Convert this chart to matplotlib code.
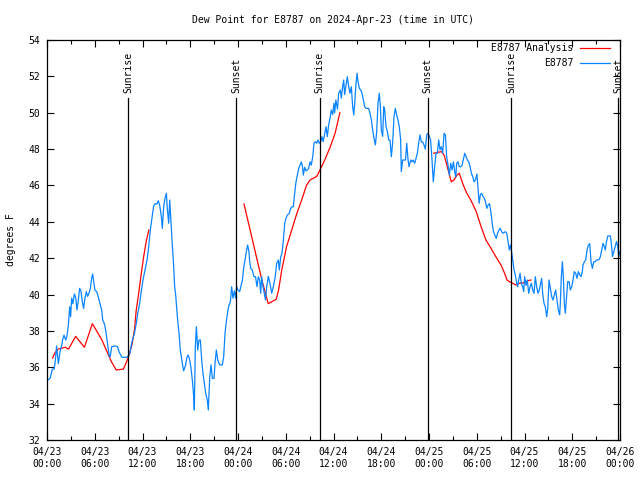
import numpy as np
import matplotlib
matplotlib.use("Agg")
import matplotlib.pyplot as plt

plt.rcParams['font.family'] = ['DejaVu Sans Mono']
plt.rcParams['font.size'] = 7

########## Observed dew point (hours since 04/23 00:00 UTC, deg F) ##########
obs_hours = [
    0.1, 0.4, 0.67, 0.9, 1.0, 1.13, 1.2, 1.43, 1.63, 1.84, 1.97, 2.14, 2.35, 2.5, 2.68, 2.85, 2.97,
    3.1, 3.25, 3.43, 3.6, 3.77, 3.94, 4.1, 4.26, 4.44, 4.6, 4.77, 4.94, 5.1, 5.27, 5.45, 5.61, 5.74,
    5.87, 6.03, 6.24, 6.45, 6.66, 6.87, 7.0, 7.2, 7.37, 7.54, 7.71, 7.83, 7.95, 8.13, 8.55, 8.87,
    9.05, 9.4, 10.05, 10.39, 10.68, 10.97, 11.22, 11.4, 11.65, 11.81, 12.06, 12.36, 12.57, 12.78,
    12.98, 13.19, 13.4, 13.6, 13.8, 13.99, 14.16, 14.37, 14.49, 14.66, 14.83, 15.0, 15.12, 15.29,
    15.42, 15.55, 15.71, 15.92, 16.04, 16.17, 16.38, 16.59, 16.75, 16.97, 17.17, 17.4, 17.6, 17.75,
    17.93, 18.1, 18.26, 18.43, 18.51, 18.64, 18.77, 18.94, 19.1, 19.27, 19.44, 19.6, 19.77, 19.94,
    20.14, 20.27, 20.45, 20.61, 20.78, 20.99, 21.11, 21.28, 21.45, 21.7, 22.03, 22.2, 22.37, 22.53,
    22.74, 22.87, 23.04, 23.2, 23.37, 23.54, 23.7, 23.83, 24.0, 24.21, 24.38, 24.55, 24.71, 24.88,
    25.05, 25.21, 25.38, 25.47, 25.6, 25.8, 26.0, 26.2, 26.39, 26.55, 26.72, 26.85, 26.98, 27.14,
    27.3, 27.45, 27.6, 27.81, 28.02, 28.24, 28.44, 28.65, 28.86, 29.07, 29.19, 29.37, 29.53, 29.7,
    29.87, 30.03, 30.2, 30.45, 30.62, 30.79, 30.95, 31.12, 31.29, 31.46, 31.63, 31.79, 31.96, 32.1,
    32.21, 32.38, 32.55, 32.71, 32.88, 33.05, 33.21, 33.39, 33.55, 33.72, 33.89, 34.05, 34.22,
    34.39, 34.56, 34.7, 34.9, 35.06, 35.22, 35.39, 35.56, 35.73, 35.9, 36.06, 36.15, 36.3, 36.5,
    36.65, 36.86, 36.98, 37.15, 37.28, 37.4, 37.57, 37.74, 37.91, 38.07, 38.24, 38.41, 38.54,
    38.66, 38.83, 38.96, 39.08, 39.25, 39.42, 39.58, 39.75, 39.92, 40.1, 40.42, 40.59, 40.76,
    40.92, 41.09, 41.26, 41.43, 41.59, 41.76, 41.89, 42.01, 42.18, 42.31, 42.43, 42.6, 42.77,
    42.93, 43.1, 43.27, 43.44, 43.6, 43.77, 43.94, 44.1, 44.27, 44.44, 44.52, 44.69, 44.86, 45.05,
    45.2, 45.37, 45.49, 45.7, 45.86, 46.0, 46.2, 46.37, 46.54, 46.7, 46.87, 47.04, 47.2, 47.37,
    47.54, 47.71, 47.88, 48.05, 48.2, 48.38, 48.54, 48.71, 48.88, 49.05, 49.22, 49.39, 49.55,
    49.72, 49.89, 50.06, 50.22, 50.39, 50.56, 50.73, 50.9, 51.07, 51.23, 51.36, 51.48, 51.65,
    51.8, 51.98, 52.15, 52.3, 52.49, 52.66, 52.82, 52.99, 53.16, 53.33, 53.5, 53.66, 53.83, 54.02,
    54.14, 54.3, 54.45, 54.6, 54.77, 54.94, 55.1, 55.27, 55.44, 55.6, 55.77, 55.94, 56.1, 56.27,
    56.45, 56.62, 56.78, 56.95, 57.12, 57.28, 57.6, 57.77, 57.94, 58.1, 58.23, 58.35, 58.52,
    58.69, 58.85, 59.02, 59.14, 59.27, 59.44, 59.6, 59.77, 59.9, 60.02, 60.19, 60.35, 60.53,
    60.7, 60.86, 61.03, 61.2, 61.36, 61.53, 61.7, 61.86, 62.03, 62.16, 62.28, 62.45, 62.61,
    62.79, 62.92, 63.08, 63.25, 63.42, 63.58, 63.75, 63.92, 64.08, 64.25, 64.42, 64.5, 64.63,
    64.76, 64.88, 65.0, 65.13, 65.25, 65.43, 65.6, 65.76, 65.93, 66.1, 66.26, 66.43, 66.6, 66.76,
    66.93, 67.1, 67.27, 67.35, 67.52, 67.69, 67.86, 68.03, 68.2, 68.28, 68.36, 68.53, 68.7, 68.87,
    69.03, 69.2, 69.37, 69.53, 69.7, 69.87, 70.03, 70.16, 70.3, 70.47, 70.64, 70.8, 70.97, 71.05,
    71.22, 71.39, 71.56, 71.72, 71.85, 71.97,
]
obs_dewpt = [
    35.3, 35.4, 35.9, 35.9, 36.2, 36.77, 37.17, 36.2, 36.86, 37.17, 37.54, 37.77, 37.5, 37.7, 38.3, 39.33, 38.78,
    39.8, 39.5, 40.03, 39.85, 39.15, 39.7, 40.34, 40.2, 39.6, 39.24, 39.8, 40.16, 39.9, 40.07, 40.34, 40.9, 41.13,
    40.7, 40.22, 40.17, 39.85, 39.5, 39.15, 38.6, 38.4, 38.05, 37.5, 36.95, 36.58, 36.6, 37.13, 37.17, 37.13,
    36.86, 36.55, 36.55, 36.73, 37.41, 37.83, 38.42, 38.97, 39.52, 40.07, 40.8, 41.44, 41.9, 42.63,
    43.55, 44.19, 44.87, 45.0, 44.98, 45.16, 44.9, 44.3, 43.64, 44.83, 45.3, 45.57, 44.7, 43.92,
    45.2, 44.2, 43.0, 41.53, 40.43, 39.97, 38.78, 37.87, 36.95, 36.3, 35.8, 36.1, 36.58, 36.67,
    36.4, 35.94, 35.3, 34.4, 33.65, 37.13, 38.23, 36.95, 37.5, 37.5, 36.4, 35.67, 35.12, 34.57,
    34.2, 33.65, 35.48, 36.13, 35.39, 35.39, 36.22, 36.95, 36.4, 36.13, 36.13, 36.58, 37.87, 38.5,
    39.15, 39.43, 39.6, 40.43, 39.8, 40.2, 39.8, 40.43, 40.25, 40.16, 40.47, 40.8, 41.44, 41.9,
    42.36, 42.72, 42.36, 41.8, 41.44, 41.35, 40.98, 40.98, 40.43, 40.98, 40.8, 40.07, 40.98, 40.43,
    40.07, 39.7, 40.4, 41.0, 40.6, 40.07, 40.43, 40.89, 41.72, 41.9, 41.35, 42.08, 42.27, 43.0,
    43.92, 44.19, 44.37, 44.47, 44.74, 44.83, 44.83, 45.57, 46.2, 46.57, 46.94, 47.12, 47.3, 47.03,
    46.57, 47.0, 46.8, 46.85, 46.94, 47.3, 47.12, 47.58, 48.32, 48.41, 48.32, 48.5, 48.32,
    48.41, 48.68, 48.41, 48.87, 49.23, 48.68, 49.33, 49.69, 50.15, 49.9, 50.52, 50.0, 50.7, 50.2,
    51.07, 51.25, 50.8, 51.43, 51.8, 51.0, 51.52, 51.98, 51.43, 51.07, 51.43, 50.33, 49.88,
    50.5, 51.62, 52.17, 51.7, 51.34, 51.25, 51.07, 50.7, 50.33, 50.24, 50.24, 49.97, 49.6,
    49.05, 48.6, 48.23, 48.96, 50.52, 51.07, 50.33, 49.05, 48.7, 50.33, 50.15, 49.23, 48.96,
    48.5, 48.5, 47.58, 48.4, 49.78, 50.24, 49.88, 49.6, 49.23, 48.5, 46.76, 47.4, 47.4, 47.4,
    48.32, 47.4, 47.03, 47.4, 47.3, 47.4, 47.22, 47.5, 47.77, 48.32, 48.78, 48.4, 48.4, 48.23,
    48.0, 48.78, 48.87, 48.7, 48.5, 47.4, 46.2, 47.03, 47.77, 47.77, 48.5, 47.95, 48.13,
    47.77, 48.87, 48.78, 47.58, 47.12, 46.57, 47.22, 46.85, 47.3, 46.76, 46.48, 47.22, 47.3,
    47.03, 47.03, 47.1, 47.4, 47.77, 47.58, 47.4, 47.3, 47.03, 46.67, 46.48, 46.2, 46.3, 46.63,
    45.93, 45.02, 45.48, 45.57, 45.4, 45.3, 45.11, 44.74, 44.93, 45.0, 44.56, 43.92, 43.46, 43.27,
    43.09, 43.37, 43.55, 43.64, 43.46, 43.37, 43.46, 43.37, 42.91, 42.45, 42.72, 42.45, 41.9,
    41.35, 41.07, 40.62, 40.43, 40.8, 41.17, 40.62, 40.43, 40.16, 40.98, 40.5, 40.8, 40.07,
    40.43, 40.62, 40.25, 40.07, 40.98, 40.43, 40.07, 40.25, 40.62, 40.89, 40.07, 39.52, 39.33,
    38.78, 39.24, 40.8, 40.35, 39.88, 39.7, 39.97, 40.25, 39.7, 39.15, 38.88, 39.5, 40.98,
    41.8, 40.98, 39.52, 38.97, 39.7, 40.71, 40.71, 40.25, 40.43, 40.8, 41.26, 41.17, 40.89, 41.26,
    41.1, 40.98, 41.26, 41.62, 41.8, 41.9, 42.45, 42.72, 42.8, 42.27, 41.8, 41.44, 41.8, 41.8,
    41.9, 41.9, 41.92, 42.08, 42.45, 42.82, 42.63, 42.45, 42.91, 43.22, 43.22, 43.22, 42.54, 42.08,
    42.36, 42.63, 42.91, 42.63, 42.08, 42.36,
]

########## Analysis dew point (NaN = gap between analysis runs) ##########
ana_hours = [
    0.7, 1.0, 1.4, 2.3, 2.7, 3.6, 4.7, 5.7, 6.9, 8.1, 8.7, 9.6, 10.0, 10.4, 10.7, 11.0, 11.2,
    11.5, 11.8, 12.15, 12.5, 12.8,
    18.0,
    24.75, 25.5, 26.3, 27.0, 27.8, 28.8, 29.1, 29.5, 30.1, 30.75, 31.4, 32.0, 32.6, 33.05,
    33.9, 34.3, 34.9, 35.6, 36.2, 36.8,
    42.0,
    48.6, 49.05, 49.55, 49.9, 50.3, 50.8, 51.15, 51.5, 51.8, 52.3, 52.75, 53.25, 53.9, 54.55,
    55.15, 55.8, 56.4, 57.05, 57.5, 57.8, 58.1, 58.5, 58.95, 59.35, 60.0, 60.4, 60.8,
]
ana_dewpt = [
    36.5, 36.8, 37.0, 37.1, 37.0, 37.7, 37.1, 38.4, 37.5, 36.3, 35.85, 35.9, 36.3, 36.8, 37.3, 38.1, 39.1,
    40.0, 41.0, 42.1, 43.0, 43.55,
    np.nan,
    44.98, 43.6, 42.1, 40.8, 39.5, 39.74, 40.25, 41.35, 42.63, 43.55, 44.47, 45.2, 46.0, 46.3,
    46.5, 46.85, 47.4, 48.13, 48.87, 50.0,
    np.nan,
    47.77, 47.82, 47.86, 47.67, 47.03, 46.2, 46.3, 46.57, 46.67, 46.03, 45.57, 45.2, 44.6, 43.73,
    43.0, 42.54, 42.08, 41.62, 41.17, 40.8, 40.71, 40.62, 40.52, 40.62, 40.65, 40.76, 40.8,
]

sunrise_hours = [10.2, 34.25, 58.3]
sunset_hours = [23.75, 47.85, 71.75]

tick_hours = list(range(0, 73, 6))
tick_labels = ["04/%d\n%02d:00" % (23 + h // 24, h % 24) for h in tick_hours]

fig = plt.figure(figsize=(6.4, 4.8), dpi=100)
ax = fig.add_axes([47 / 640, 40 / 480, 573 / 640, 400 / 480])

ax.plot(ana_hours, ana_dewpt, color='#ff0000', lw=0.9, label='E8787 Analysis')
ax.plot(obs_hours, obs_dewpt, color='#0a84ff', lw=0.9, label='E8787')

# sunrise / sunset markers
for h in sunrise_hours:
    ax.axvline(h, ymin=0, ymax=0.855, color='black', lw=0.9)
    ax.text(h, 0.8675, 'Sunrise', transform=ax.get_xaxis_transform(), rotation=90,
            ha='center', va='bottom', clip_on=False)
for h in sunset_hours:
    ax.axvline(h, ymin=0, ymax=0.855, color='black', lw=0.9)
    ax.text(h, 0.8675, 'Sunset', transform=ax.get_xaxis_transform(), rotation=90,
            ha='center', va='bottom', clip_on=False)

ax.set_xlim(0, 72)
ax.set_ylim(32, 54)
ax.set_xticks(tick_hours)
ax.set_xticklabels(tick_labels)
ax.set_xticks(range(3, 72, 6), minor=True)
ax.set_yticks(range(32, 55, 2))
ax.tick_params(direction='in', top=True, right=True, length=5, width=0.8, pad=5, labelsize=7)
ax.tick_params(which='minor', direction='in', top=True, length=3, width=0.8)
for s in ax.spines.values():
    s.set_linewidth(0.9)

ax.set_ylabel('degrees F', labelpad=9, fontsize=7)
ax.set_title('Dew Point for E8787 on 2024-Apr-23 (time in UTC)', pad=12, fontsize=7)

ax.legend(loc='upper right', bbox_to_anchor=(0.992, 1.007), frameon=False, markerfirst=False,
          handlelength=3.0, handletextpad=0.75, labelspacing=0.55, borderaxespad=0.2, fontsize=7)

fig.savefig('out.png', dpi=100)
